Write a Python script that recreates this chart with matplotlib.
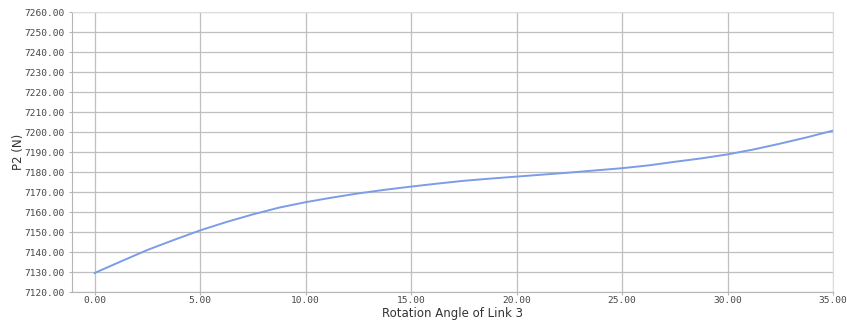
import numpy as np
import matplotlib.pyplot as plt

# rotation angle of link 3 and resulting force P2
angle = [0.0, 1.25, 2.5, 3.75, 5.0, 6.25, 7.5, 8.75, 10.0, 11.25, 12.5, 13.75,
         15.0, 16.25, 17.5, 18.75, 20.0, 22.5, 25.0, 26.25, 27.5, 28.75,
         30.0, 31.25, 32.5, 33.75, 35.0]
p2 = [7129.5, 7135.3, 7141.0, 7146.0, 7150.8, 7155.0, 7158.8, 7162.2, 7164.9,
      7167.2, 7169.3, 7171.1, 7172.7, 7174.2, 7175.6, 7176.7, 7177.7, 7179.7,
      7181.9, 7183.3, 7185.1, 7186.8, 7188.8, 7191.3, 7194.2, 7197.3, 7200.7]

x_ticks = np.arange(0, 35.1, 5)
y_ticks = np.arange(7120, 7260.1, 10)

fig = plt.figure(figsize=(8.47, 3.21), dpi=100)
ax = fig.add_axes([72 / 847, 29 / 321, 761 / 847, 280 / 321])

ax.plot(angle, p2, color="#7b9de8", lw=1.4, zorder=3)

ax.set_xlim(-1.07, 35)
ax.set_ylim(7120, 7260)
ax.set_xticks(x_ticks)
ax.set_yticks(y_ticks)
ax.set_xticklabels([f"{v:.2f}" for v in x_ticks])
ax.set_yticklabels([f"{v:.2f}" for v in y_ticks])
ax.grid(True, color="#bfbfbf", lw=0.9)
ax.set_axisbelow(True)

for side in ["top", "right"]:
    ax.spines[side].set_color("#dddddd")
for side in ["left", "bottom"]:
    ax.spines[side].set_color("#b5b5b5")
ax.tick_params(length=2, color="#b5b5b5")
ax.tick_params(axis="x", pad=1)
ax.tick_params(axis="y", pad=3)
for lab in ax.get_xticklabels() + ax.get_yticklabels():
    lab.set_family("DejaVu Sans Mono")
    lab.set_fontsize(6.8)
    lab.set_color("#474747")

ax.set_xlabel("Rotation Angle of Link 3", fontsize=8.5, color="#333333", labelpad=1)
ax.set_ylabel("P2 (N)", fontsize=8.5, color="#333333", labelpad=0)

plt.savefig("out.png", dpi=100)
plt.close()
